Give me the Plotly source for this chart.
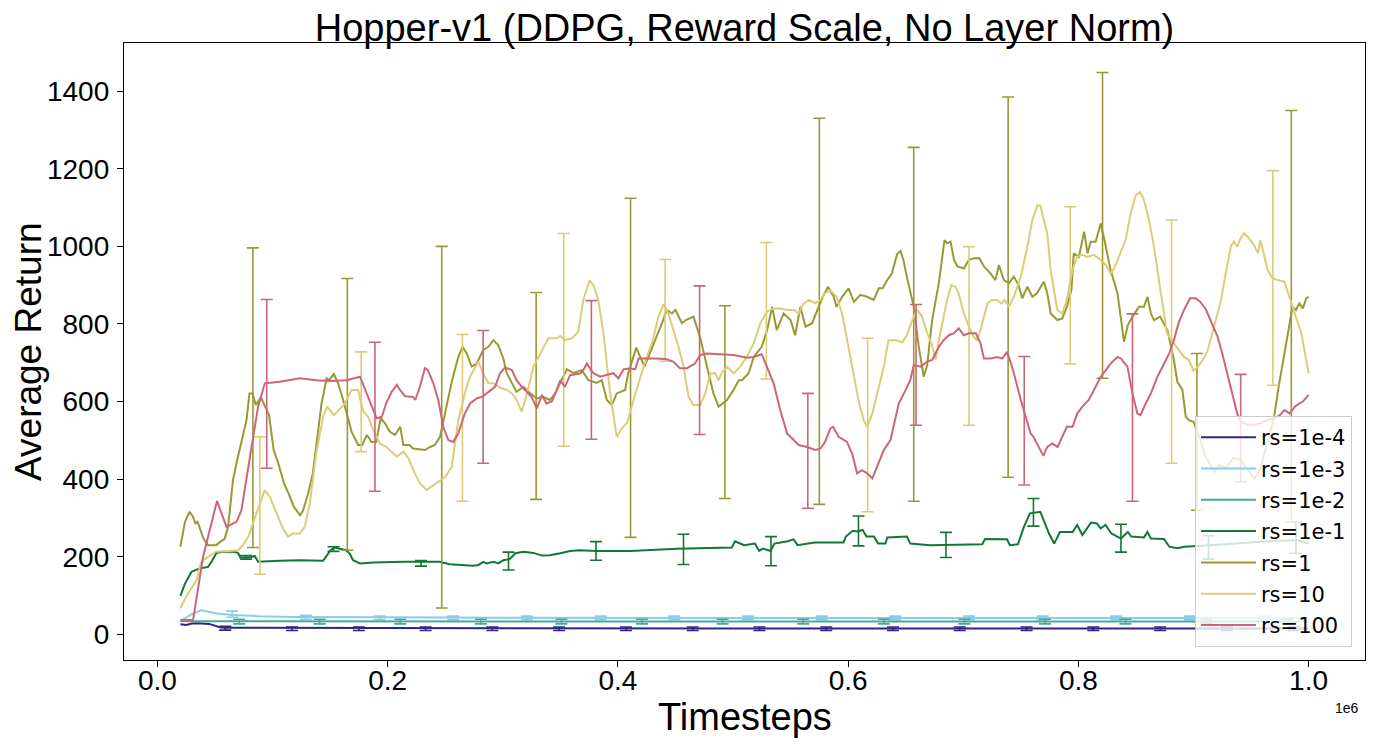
import plotly.graph_objects as go

# x values are in units of 1e6 timesteps (matplotlib offset text "1e6")
steps_rs1e4 = [0.020, 0.025, 0.030, 0.035, 0.045, 0.050, 0.055, 0.060, 0.100, 0.300, 0.500, 0.700, 0.900, 1.000]
ret_rs1e4 = [26, 24, 28, 29, 27, 23, 18, 17, 17, 16, 15, 15, 15, 15]
err_x_rs1e4 = [0.059, 0.117, 0.175, 0.233, 0.291, 0.349, 0.407, 0.465, 0.523, 0.581, 0.639, 0.697, 0.755,
               0.813, 0.871, 0.929, 0.987]
err_lo_rs1e4 = [11] + [10] * 16
err_hi_rs1e4 = [21] + [19] * 16

steps_rs1e3 = [0.020, 0.030, 0.038, 0.045, 0.052, 0.066, 0.087, 0.117, 0.146, 0.204, 0.300, 0.500, 0.700, 1.000]
ret_rs1e3 = [35, 52, 62, 58, 54, 50, 47, 45, 45, 44, 43, 42, 42, 42]
err_x_rs1e3 = [0.065, 0.129, 0.193, 0.257, 0.321, 0.385, 0.449, 0.513, 0.577, 0.641, 0.705, 0.769, 0.833,
               0.897, 0.961]
err_lo_rs1e3 = [44, 39] + [38] * 13
err_hi_rs1e3 = [60, 49] + [47] * 13

steps_rs1e2 = [0.020, 0.200, 0.400, 0.600, 0.800, 1.000]
ret_rs1e2 = [34, 33, 33, 33, 33, 33]
err_x_rs1e2 = [0.071, 0.141, 0.211, 0.281, 0.351, 0.421, 0.491, 0.561, 0.631, 0.701, 0.771, 0.841, 0.911, 0.981]
err_lo_rs1e2 = [27] * 14
err_hi_rs1e2 = [39] * 14

steps_rs1e1 = [0.020, 0.024, 0.0296, 0.0368, 0.044, 0.047, 0.0513, 0.057, 0.0657, 0.070, 0.072, 0.080, 0.0846,
               0.0875, 0.1063, 0.1237, 0.144, 0.1464, 0.148, 0.1504, 0.154, 0.160, 0.164, 0.167, 0.170, 0.176,
               0.1875, 0.2136, 0.245, 0.254, 0.2657, 0.274, 0.279, 0.283, 0.286, 0.292, 0.296, 0.3005, 0.306,
               0.311, 0.318, 0.3266, 0.334, 0.341, 0.350, 0.3585, 0.367, 0.3817, 0.411, 0.451, 0.499, 0.5017,
               0.5097, 0.519, 0.5227, 0.526, 0.5327, 0.536, 0.5476, 0.5527, 0.556, 0.571, 0.596, 0.598, 0.604,
               0.608, 0.6126, 0.616, 0.6225, 0.626, 0.6325, 0.634, 0.651, 0.654, 0.6715, 0.7165, 0.719, 0.738,
               0.7405, 0.7475, 0.7527, 0.758, 0.767, 0.7745, 0.779, 0.784, 0.795, 0.799, 0.8035, 0.811, 0.816,
               0.8194, 0.8236, 0.8287, 0.837, 0.843, 0.846, 0.857, 0.860, 0.863, 0.8744, 0.879, 0.886, 0.892,
               0.915, 0.9585, 0.990, 1.000]
ret_rs1e1 = [99, 131, 161, 170, 174, 187, 210, 213, 213, 210, 198, 198, 202,
             187, 190, 191, 190, 200, 204, 217, 224, 219, 217, 208, 191, 183,
             185, 187, 187, 181, 179, 177, 179, 187, 183, 187, 183, 191, 194,
             209, 213, 210, 203, 204, 209, 215, 217, 215, 215, 221, 224, 240,
             230, 234, 215, 221, 215, 234, 240, 245, 230, 237, 237, 252, 267,
             265, 269, 252, 252, 234, 234, 250, 252, 234, 230, 232, 246, 245,
             230, 232, 277, 312, 316, 260, 234, 264, 264, 282, 256, 288, 286,
             273, 282, 260, 247, 264, 252, 250, 264, 247, 246, 226, 222, 226,
             230, 239, 243, 234]
err_x_rs1e1 = [0.077, 0.153, 0.229, 0.305, 0.381, 0.457, 0.533, 0.609, 0.685, 0.761, 0.837, 0.913, 0.989]
err_lo_rs1e1 = [194, 214, 176, 166, 191, 180, 177, 228, 198, 279, 212, 194, 209]
err_hi_rs1e1 = [203, 226, 190, 212, 239, 258, 252, 305, 263, 350, 284, 254, 289]

steps_rs1 = [0.020, 0.024, 0.028, 0.031, 0.033, 0.035, 0.040, 0.044, 0.051, 0.0585, 0.0614, 0.0657, 0.0687,
             0.0745, 0.0774, 0.080, 0.0826, 0.0855, 0.090, 0.093, 0.097, 0.101, 0.105, 0.110, 0.114, 0.1185,
             0.124, 0.1266, 0.131, 0.135, 0.138, 0.1426, 0.147, 0.149, 0.1533, 0.157, 0.1614, 0.1657, 0.1687,
             0.1745, 0.178, 0.182, 0.186, 0.190, 0.194, 0.1977, 0.202, 0.2063, 0.211, 0.2136, 0.219, 0.222,
             0.2324, 0.2368, 0.241, 0.2455, 0.250, 0.2557, 0.2614, 0.265, 0.2687, 0.273, 0.2774, 0.283, 0.2875,
             0.2918, 0.296, 0.3005, 0.3035, 0.306, 0.312, 0.318, 0.324, 0.3296, 0.335, 0.341, 0.3455, 0.351,
             0.3557, 0.3614, 0.3687, 0.3744, 0.3817, 0.386, 0.3904, 0.3948, 0.399, 0.4063, 0.409, 0.416, 0.4194,
             0.423, 0.4266, 0.434, 0.4383, 0.4426, 0.447, 0.450, 0.4557, 0.459, 0.4657, 0.4716, 0.4774, 0.483,
             0.4875, 0.4948, 0.5005, 0.505, 0.5078, 0.5136, 0.518, 0.525, 0.5296, 0.534, 0.538, 0.544, 0.550,
             0.554, 0.5585, 0.563, 0.5687, 0.576, 0.578, 0.5826, 0.5875, 0.590, 0.5948, 0.6005, 0.605, 0.6107,
             0.6165, 0.6223, 0.6266, 0.630, 0.634, 0.638, 0.6426, 0.6455, 0.648, 0.651, 0.657, 0.6614, 0.6657,
             0.6687, 0.673, 0.6788, 0.6837, 0.686, 0.689, 0.692, 0.695, 0.7005, 0.705, 0.709, 0.714, 0.718,
             0.7237, 0.728, 0.731, 0.7353, 0.7397, 0.744, 0.748, 0.7513, 0.7557, 0.760, 0.764, 0.770, 0.773,
             0.776, 0.7817, 0.786, 0.790, 0.794, 0.796, 0.8005, 0.805, 0.808, 0.8107, 0.815, 0.8194, 0.823,
             0.828, 0.834, 0.8397, 0.843, 0.847, 0.8527, 0.857, 0.860, 0.863, 0.8657, 0.871, 0.8774, 0.883,
             0.886, 0.8904, 0.8933, 0.896, 0.900, 0.906, 0.910, 0.918, 0.922, 0.928, 0.935, 0.941, 0.947, 0.953,
             0.958, 0.964, 0.970, 0.974, 0.979, 0.983, 0.986, 0.989, 0.992, 0.995, 0.998, 1.000]
ret_rs1 = [226, 290, 316, 303, 286, 290, 247, 230, 230, 247, 277, 398, 441,
           518, 552, 621, 621, 591, 611, 591, 565, 475, 441, 389, 363, 329,
           307, 320, 363, 415, 492, 595, 660, 655, 671, 647, 604, 552, 522,
           488, 488, 514, 496, 496, 557, 544, 522, 514, 535, 488, 488, 479,
           475, 483, 488, 509, 569, 651, 715, 741, 724, 690, 698, 733, 741,
           758, 746, 711, 673, 660, 625, 638, 621, 608, 612, 604, 621, 655,
           683, 674, 681, 655, 648, 655, 604, 591, 621, 630, 673, 739, 715,
           690, 715, 767, 802, 836, 827, 836, 802, 810, 819, 763, 690, 621,
           587, 604, 630, 655, 655, 673, 715, 741, 784, 844, 784, 827, 810,
           771, 844, 793, 802, 853, 870, 896, 870, 844, 870, 892, 857, 875,
           870, 862, 892, 892, 913, 930, 980, 988, 965, 922, 844, 741, 664,
           694, 810, 905, 1016, 1008, 1012, 965, 948, 943, 965, 969, 969, 948,
           930, 913, 952, 913, 905, 922, 900, 866, 896, 870, 879, 909, 879,
           827, 810, 814, 844, 887, 982, 973, 1038, 982, 1012, 1012, 1059, 1012,
           939, 879, 754, 797, 819, 844, 844, 870, 827, 810, 819, 784, 707,
           651, 630, 561, 552, 548, 501, 462, 419, 436, 430, 455, 450, 425, 400,
           425, 492, 560, 638, 724, 802, 844, 836, 853, 840, 866, 870]
err_x_rs1 = [0.083, 0.165, 0.247, 0.329, 0.411, 0.493, 0.575, 0.657, 0.739, 0.821, 0.903, 0.985]
err_lo_rs1 = [224, 217, 68, 348, 250, 350, 335, 343, 405, 660, 320, 290]
err_hi_rs1 = [996, 917, 1000, 881, 1124, 847, 1330, 1255, 1385, 1448, 724, 1350]

steps_rs10 = [0.020, 0.025, 0.034, 0.038, 0.044, 0.051, 0.063, 0.070, 0.0745, 0.079, 0.083, 0.089, 0.0933,
              0.0977, 0.1035, 0.109, 0.1136, 0.118, 0.1237, 0.128, 0.1324, 0.138, 0.144, 0.1475, 0.1533, 0.1585,
              0.163, 0.1657, 0.1687, 0.1745, 0.176, 0.179, 0.183, 0.1875, 0.1933, 0.199, 0.205, 0.208, 0.2136,
              0.218, 0.2237, 0.228, 0.234, 0.238, 0.2426, 0.250, 0.2557, 0.2614, 0.267, 0.2716, 0.2788, 0.283,
              0.2875, 0.2918, 0.2977, 0.3035, 0.308, 0.312, 0.3165, 0.321, 0.3266, 0.3324, 0.3397, 0.347, 0.350,
              0.354, 0.360, 0.3657, 0.370, 0.3753, 0.3788, 0.383, 0.3875, 0.3933, 0.399, 0.4035, 0.4078, 0.4136,
              0.4194, 0.425, 0.4296, 0.4353, 0.4397, 0.444, 0.4483, 0.4527, 0.457, 0.4614, 0.4657, 0.4716, 0.476,
              0.4803, 0.4846, 0.4875, 0.490, 0.4948, 0.5005, 0.5063, 0.512, 0.518, 0.5237, 0.5296, 0.5353, 0.541,
              0.547, 0.553, 0.557, 0.5614, 0.566, 0.5717, 0.576, 0.580, 0.5846, 0.590, 0.5948, 0.6005, 0.605,
              0.609, 0.6135, 0.6165, 0.621, 0.6266, 0.631, 0.635, 0.6426, 0.647, 0.651, 0.6557, 0.660, 0.6643,
              0.6687, 0.673, 0.676, 0.6788, 0.683, 0.686, 0.6896, 0.6933, 0.696, 0.7005, 0.705, 0.709, 0.712,
              0.715, 0.721, 0.725, 0.7296, 0.733, 0.736, 0.7397, 0.744, 0.750, 0.7557, 0.760, 0.7643, 0.767,
              0.770, 0.773, 0.776, 0.779, 0.7817, 0.786, 0.790, 0.7948, 0.799, 0.8035, 0.8078, 0.8136, 0.8194,
              0.824, 0.828, 0.831, 0.8353, 0.841, 0.8457, 0.850, 0.8536, 0.857, 0.8614, 0.8657, 0.870, 0.8744,
              0.877, 0.883, 0.887, 0.8918, 0.896, 0.900, 0.904, 0.908, 0.912, 0.918, 0.924, 0.928, 0.9324, 0.935,
              0.938, 0.941, 0.944, 0.948, 0.9527, 0.956, 0.958, 0.961, 0.9644, 0.9687, 0.973, 0.979, 0.9836,
              0.988, 0.9937, 1.000]
ret_rs10 = [67, 97, 140, 187, 200, 213, 215, 217, 230, 252, 286, 338, 372,
            355, 312, 273, 252, 260, 260, 277, 338, 466, 561, 587, 565, 582,
            595, 612, 630, 630, 608, 574, 561, 527, 492, 483, 466, 458, 471,
            454, 415, 389, 372, 380, 389, 406, 432, 552, 621, 664, 703, 673,
            647, 647, 636, 630, 621, 604, 574, 621, 690, 724, 763, 763, 769,
            758, 763, 780, 862, 912, 900, 862, 776, 621, 509, 531, 544, 604,
            664, 715, 750, 819, 851, 827, 784, 741, 690, 612, 591, 591, 621,
            673, 673, 655, 673, 690, 673, 690, 715, 750, 802, 832, 840, 840,
            836, 836, 827, 853, 862, 853, 862, 879, 887, 870, 827, 741, 673,
            604, 552, 535, 569, 638, 690, 758, 758, 752, 771, 810, 836, 819,
            776, 745, 707, 758, 819, 862, 900, 896, 879, 827, 793, 767, 758,
            784, 853, 862, 862, 853, 862, 844, 870, 922, 999, 1068, 1105, 1105,
            1068, 1034, 939, 879, 836, 827, 862, 939, 973, 978, 973, 978, 965,
            952, 930, 943, 973, 1016, 1089, 1132, 1140, 1119, 1068, 999, 913, 819,
            776, 750, 733, 715, 707, 680, 690, 707, 728, 793, 862, 930, 999, 1012,
            999, 1021, 1034, 1021, 1003, 982, 1016, 982, 939, 918, 913, 909, 870,
            827, 776, 673]
err_x_rs10 = [0.089, 0.177, 0.265, 0.353, 0.441, 0.529, 0.617, 0.705, 0.793, 0.881, 0.969]
err_lo_rs10 = [155, 471, 343, 485, 704, 658, 316, 539, 697, 441, 642]
err_hi_rs10 = [509, 728, 773, 1033, 966, 1010, 763, 999, 1102, 1068, 1195]

steps_rs100 = [0.020, 0.031, 0.0397, 0.0518, 0.060, 0.0687, 0.073, 0.0774, 0.0832, 0.0875, 0.0933, 0.1063,
               0.1237, 0.138, 0.150, 0.164, 0.176, 0.183, 0.1904, 0.195, 0.1987, 0.2035, 0.208, 0.2107, 0.215,
               0.222, 0.224, 0.228, 0.2324, 0.235, 0.2397, 0.244, 0.2483, 0.2527, 0.257, 0.2614, 0.267, 0.2716,
               0.2774, 0.283, 0.2933, 0.2977, 0.302, 0.308, 0.312, 0.3165, 0.319, 0.325, 0.3296, 0.334, 0.338,
               0.3426, 0.347, 0.350, 0.354, 0.3585, 0.3675, 0.370, 0.373, 0.3788, 0.3846, 0.3904, 0.396, 0.4005,
               0.405, 0.4107, 0.415, 0.418, 0.434, 0.4426, 0.448, 0.454, 0.460, 0.467, 0.4716, 0.4774, 0.489,
               0.5005, 0.512, 0.518, 0.525, 0.5296, 0.5353, 0.541, 0.547, 0.5527, 0.557, 0.5643, 0.5717, 0.576,
               0.580, 0.5846, 0.587, 0.5918, 0.599, 0.6035, 0.6078, 0.612, 0.6165, 0.621, 0.625, 0.631, 0.6368,
               0.641, 0.644, 0.650, 0.654, 0.657, 0.663, 0.6687, 0.673, 0.6788, 0.683, 0.6875, 0.692, 0.696,
               0.7005, 0.705, 0.711, 0.715, 0.718, 0.724, 0.7296, 0.734, 0.738, 0.741, 0.744, 0.750, 0.754,
               0.7585, 0.761, 0.7657, 0.7696, 0.773, 0.7774, 0.782, 0.786, 0.790, 0.795, 0.799, 0.8035, 0.809,
               0.8136, 0.8194, 0.824, 0.828, 0.834, 0.837, 0.8426, 0.847, 0.8513, 0.854, 0.8585, 0.863, 0.8687,
               0.8744, 0.879, 0.883, 0.887, 0.8918, 0.897, 0.902, 0.906, 0.911, 0.915, 0.921, 0.925, 0.930, 0.934,
               0.938, 0.941, 0.947, 0.953, 0.958, 0.964, 0.970, 0.975, 0.979, 0.9836, 0.988, 0.9918, 0.995, 1.000]
ret_rs100 = [37, 37, 200, 344, 277, 290, 320, 406, 509, 587, 647, 651,
             660, 655, 653, 655, 664, 612, 557, 561, 595, 625, 643, 630, 614,
             612, 604, 638, 686, 681, 647, 604, 535, 501, 496, 518, 569, 595,
             608, 614, 638, 673, 688, 681, 655, 638, 630, 612, 582, 617, 595,
             600, 630, 655, 638, 668, 673, 681, 698, 673, 664, 668, 673, 660,
             683, 686, 683, 711, 711, 709, 703, 686, 686, 698, 720, 724, 722,
             720, 713, 715, 722, 690, 647, 578, 518, 501, 488, 483, 475, 479,
             496, 531, 535, 509, 496, 466, 415, 423, 415, 402, 432, 475, 501,
             552, 595, 630, 655, 694, 690, 703, 707, 741, 758, 771, 776, 789,
             771, 776, 776, 750, 711, 711, 715, 711, 728, 703, 673, 604, 561,
             518, 509, 483, 460, 483, 492, 483, 509, 535, 535, 569, 587, 604,
             630, 664, 681, 698, 715, 711, 690, 621, 569, 565, 595, 621, 664,
             698, 724, 758, 802, 836, 866, 866, 857, 836, 810, 767, 724, 664, 621,
             569, 548, 540, 540, 544, 552, 556, 565, 578, 569, 587, 595, 600, 617]
err_x_rs100 = [0.095, 0.189, 0.283, 0.377, 0.471, 0.565, 0.659, 0.753, 0.847, 0.941]
err_lo_rs100 = [428, 369, 441, 503, 515, 325, 539, 385, 343, 393]
err_hi_rs100 = [863, 753, 783, 860, 898, 621, 850, 716, 826, 670]

names = ['rs=1e-4', 'rs=1e-3', 'rs=1e-2', 'rs=1e-1', 'rs=1', 'rs=10', 'rs=100']
colors = ['#332288', '#88CCEE', '#44AA99', '#117733', '#999933', '#DDCC77', '#CC6677']

series = [
    (steps_rs1e4, ret_rs1e4, err_x_rs1e4, err_lo_rs1e4, err_hi_rs1e4),
    (steps_rs1e3, ret_rs1e3, err_x_rs1e3, err_lo_rs1e3, err_hi_rs1e3),
    (steps_rs1e2, ret_rs1e2, err_x_rs1e2, err_lo_rs1e2, err_hi_rs1e2),
    (steps_rs1e1, ret_rs1e1, err_x_rs1e1, err_lo_rs1e1, err_hi_rs1e1),
    (steps_rs1, ret_rs1, err_x_rs1, err_lo_rs1, err_hi_rs1),
    (steps_rs10, ret_rs10, err_x_rs10, err_lo_rs10, err_hi_rs10),
    (steps_rs100, ret_rs100, err_x_rs100, err_lo_rs100, err_hi_rs100),
]

FONT = 'Liberation Sans, Arial, sans-serif'

fig = go.Figure()
for name, color, (sx, sy, ex, elo, ehi) in zip(names, colors, series):
    fig.add_trace(go.Scatter(
        x=sx, y=sy, mode='lines', name=name, legendgroup=name,
        line=dict(color=color, width=2)
    ))
    # symmetric error bars (mean +/- std) drawn every few points
    mid = [(lo + hi) / 2 for lo, hi in zip(elo, ehi)]
    half = [(hi - lo) / 2 for lo, hi in zip(elo, ehi)]
    fig.add_trace(go.Scatter(
        x=ex, y=mid, mode='markers', showlegend=False, legendgroup=name, hoverinfo='skip',
        marker=dict(size=1, color='rgba(0,0,0,0)'),
        error_y=dict(type='data', array=half, visible=True, color=color, thickness=1.6, width=6)
    ))

axis_common = dict(
    showline=True, linecolor='black', linewidth=1.3, mirror=True,
    ticks='outside', ticklen=6, tickwidth=1.2, tickcolor='black',
    showgrid=False, zeroline=False,
    tickfont=dict(family=FONT, size=28, color='black'),
)

# page body adds an 8px offset, so the figure is sized to fit the window
fig.update_layout(
    width=1359, height=730,
    margin=dict(l=116, r=2, t=35, b=78),
    plot_bgcolor='white', paper_bgcolor='white',
    title=dict(text='Hopper-v1 (DDPG, Reward Scale, No Layer Norm)', x=0.5, xref='paper',
               y=0.9733, yref='container', yanchor='middle',
               font=dict(family=FONT, size=38, color='black')),
    xaxis=dict(range=[-0.029, 1.049], tickvals=[0.0, 0.2, 0.4, 0.6, 0.8, 1.0], tickformat='.1f',
               ticklabelstandoff=-11, **axis_common),
    yaxis=dict(range=[-66, 1524], tickvals=[0, 200, 400, 600, 800, 1000, 1200, 1400],
               ticklabelstandoff=2, **axis_common),
    legend=dict(x=0.9895, y=0.021, xanchor='right', yanchor='bottom',
                bgcolor='rgba(255,255,255,0.8)', bordercolor='#cccccc', borderwidth=1,
                font=dict(family='DejaVu Sans, sans-serif', size=21, color='black'),
                traceorder='grouped', tracegroupgap=1, itemwidth=55),
    annotations=[
        dict(text='Timesteps', xref='paper', yref='paper', x=0.5, y=-0.092, yanchor='middle',
             showarrow=False, font=dict(family=FONT, size=38, color='black')),
        dict(text='Average Return', xref='paper', yref='paper', x=-0.077, y=0.5, textangle=-90,
             xanchor='center', yanchor='middle', showarrow=False,
             font=dict(family=FONT, size=37, color='black')),
        dict(text='1e6', xref='paper', yref='paper', x=0.997, y=-0.077, xanchor='right', yanchor='middle',
             showarrow=False, font=dict(family=FONT, size=14, color='black')),
    ],
)

fig.write_html("out.html")
